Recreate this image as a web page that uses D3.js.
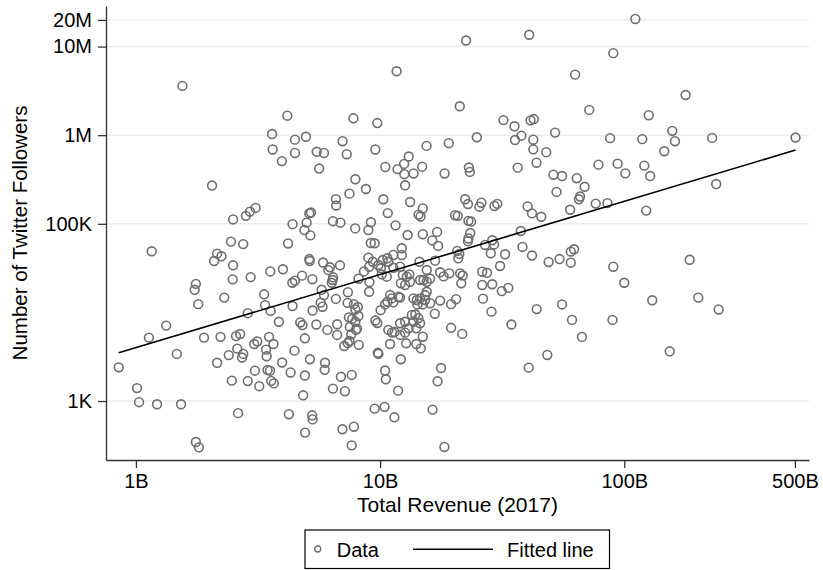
<!DOCTYPE html>
<html>
<head>
<meta charset="utf-8">
<script src="https://cdn.jsdelivr.net/npm/d3@7"></script>
<style>
    body { margin: 0; background: #fff; }
    #scatter { width: 823px; height: 570px; }
    text { font-family: "Liberation Sans", Arial, sans-serif; fill: #000; }
</style>
</head>
<body>
<div id="scatter"></div>
<script>

// total revenue 2017, in billions
const revenue = [
    0.85, 1.01, 1.03, 1.13, 1.16, 1.22, 1.33, 1.47, 1.53, 1.55, 1.74, 1.76, 1.8, 1.76, 1.81, 1.9,
    2.05, 2.09, 2.15, 2.24, 2.15, 2.22, 2.3, 2.4, 2.45, 2.5, 2.5, 2.49, 2.47, 2.57, 2.67, 2.6,
    2.75, 2.72, 2.62, 2.75, 2.82, 2.93, 3.09, 2.95, 2.87, 2.87, 3.07, 3.05, 3.14, 3.2, 3.35, 3.38,
    3.41, 3.43, 3.51, 3.66, 3.46, 3.54, 3.58, 3.67, 3.55, 3.56, 3.61, 3.63, 3.96, 4.0, 3.85, 3.97,
    4.17, 4.2, 4.23, 4.3, 4.37, 4.48, 4.38, 4.38, 4.46, 4.48, 4.48, 4.71, 4.81, 4.79, 4.84, 4.9,
    4.92, 4.92, 4.93, 4.97, 5.0, 5.13, 5.21, 5.18, 5.13, 5.15, 5.16, 5.28, 5.29, 5.27, 5.29, 5.5,
    5.48, 5.63, 5.89, 5.76, 5.89, 5.71, 5.81, 5.84, 5.95, 5.93, 6.08, 6.14, 6.23, 6.41, 6.39, 6.34,
    6.42, 6.41, 6.85, 6.59, 6.59, 6.61, 6.67, 6.67, 6.88, 6.91, 7.01, 7.02, 7.3, 7.13, 7.37, 7.49,
    8.18, 7.62, 7.96, 7.18, 7.38, 7.36, 7.81, 8.11, 7.92, 7.45, 7.69, 8.15, 7.92, 7.52, 8.04, 7.49,
    7.65, 7.65, 7.81, 7.78, 7.92, 7.91, 8.16, 8.59, 8.75, 9.02, 9.05, 9.02, 8.95, 9.17, 8.95, 9.16,
    9.5, 9.34, 9.5, 9.56, 9.74, 9.56, 9.74, 9.79, 9.84, 9.84, 10.05, 10.07, 10.16, 10.26, 10.31, 10.5,
    10.48, 10.56, 10.43, 10.48, 10.65, 10.71, 10.71, 10.81, 10.75, 10.81, 10.99, 10.99, 11.17, 11.33, 11.33, 11.33,
    11.2, 11.47, 11.57, 11.68, 11.79, 11.85, 11.44, 11.89, 12.08, 12.08, 12.08, 12.08, 12.16, 12.27, 12.27, 12.16,
    12.39, 12.54, 12.57, 12.66, 12.66, 12.86, 13.18, 13.27, 12.66, 12.66, 12.78, 12.96, 13.09, 13.1, 13.27, 13.49,
    13.69, 14.14, 14.58, 15.29, 14.22, 14.96, 15.53, 15.29, 16.03, 13.69, 14.34, 14.58, 14.07, 13.95, 14.07, 14.68,
    14.96, 13.71, 14.37, 14.65, 14.49, 14.58, 15.05, 14.87, 14.96, 14.96, 15.5, 15.53, 16.03, 15.53, 16.36, 17.12,
    17.28, 16.8, 16.75, 16.4, 17.2, 17.77, 17.61, 18.2, 19.2, 17.61, 18.37, 18.34, 19.11, 19.53, 20.48, 19.53,
    20.29, 20.8, 20.7, 21.1, 20.9, 21.2, 21.27, 21.8, 21.5, 21.7, 22.3, 22.9, 22.5, 23.0, 23.6, 23.4,
    23.0, 22.9, 23.1, 23.3, 24.9, 25.5, 26.0, 26.2, 27.4, 26.2, 28.8, 26.4, 28.6, 26.9, 28.8, 29.3,
    28.4, 29.4, 30.2, 31.5, 33.5, 31.0, 32.5, 32.0, 34.5, 35.5, 35.7, 36.6, 37.9, 37.7, 38.3, 40.2,
    40.8, 41.3, 42.6, 42.4, 42.4, 41.9, 41.9, 43.7, 43.8, 40.6, 45.7, 47.9, 48.4, 49.0, 51.3, 52.1,
    52.8, 54.3, 55.6, 55.6, 60.0, 60.4, 62.3, 60.4, 61.1, 62.9, 63.9, 65.9, 65.2, 67.1, 68.8, 71.9,
    76.4, 78.4, 85.3, 87.5, 89.5, 90.2, 90.2, 93.9, 100, 101, 111, 118.5, 120.8, 123, 126, 127.7,
    130.2, 145.8, 153.5, 157.3, 161.3, 178.3, 185.3, 201, 229, 238, 243.6, 503
];

// number of twitter followers
const followers = [
    2400, 1400, 970, 5200, 49000, 920, 7100, 3400, 920, 3600000, 18000, 21000, 12400, 345, 300, 5200,
    270000, 38000, 46000, 43000, 2700, 5300, 14700, 3300, 63000, 112000, 34000, 23600, 1700, 5400, 5700, 3900,
    3400, 3100, 730, 59000, 123000, 137000, 151000, 25000, 9800, 1680, 2200, 4400, 4700, 1470, 16000, 12100,
    3800, 3200, 5300, 4400, 2240, 2200, 1690, 1580, 29000, 10400, 1030000, 690000, 510000, 30700, 7850, 2720,
    1660000, 60000, 710, 2100, 21600, 22800, 99000, 11800, 3700, 890000, 630000, 7700, 7200, 26000, 1160, 85000,
    5100, 1940, 440, 960000, 103000, 131000, 134000, 74000, 40000, 38000, 2960, 23700, 10500, 690, 620, 650000,
    7300, 420000, 630000, 18000, 15700, 12900, 11600, 36600, 2700, 2250, 6350, 30000, 32300, 107000, 23200, 21600,
    24900, 1380, 34000, 14200, 190000, 161000, 7350, 5570, 103000, 1880, 480, 855000, 610000, 4180, 4500, 4760,
    4300, 5670, 6350, 1290, 16900, 12800, 12400, 11500, 10800, 8800, 8450, 9100, 7850, 6860, 6560, 219000,
    1970, 316, 513, 1550000, 318000, 88700, 24000, 29000, 247000, 32800, 22000, 17100, 41500, 104000, 85000, 60700,
    60300, 37300, 820, 690000, 1370000, 8100, 7600, 3500, 3400, 34300, 10600, 31500, 26900, 39000, 189000, 438000,
    2210, 1760, 860, 12300, 25300, 13200, 40800, 37300, 132000, 6350, 4400, 15700, 14400, 13000, 44500, 31900,
    5940, 6000, 96000, 5270000, 414000, 1310, 655, 15000, 14700, 32800, 7550, 5570, 2960, 53000, 44500, 21300,
    26500, 474000, 363000, 272000, 20400, 25300, 26900, 22200, 7850, 5910, 4480, 74700, 6620, 575000, 176000, 9370,
    14400, 13800, 14400, 13800, 12300, 12300, 17100, 15700, 12700, 7850, 8600, 7550, 6620, 9470, 4400, 3930,
    5320, 370000, 127000, 121000, 37300, 23200, 23200, 441000, 149000, 76300, 757000, 30100, 24100, 22200, 64900, 81000,
    56300, 38400, 9670, 800, 1670, 2360, 28400, 25500, 27600, 13600, 370000, 303, 813000, 12400, 14100, 6700,
    125000, 123000, 49400, 45700, 40800, 2120000, 27600, 26100, 21300, 5720, 189000, 167000, 11700000, 108000, 106000, 78700,
    68300, 63700, 432000, 385000, 947000, 156000, 173000, 28800, 28000, 20400, 20800, 14300, 10200, 57700, 65200, 58500,
    46500, 159000, 168000, 17400, 18900, 33400, 45300, 1480000, 7300, 1260000, 883000, 430000, 987000, 82900, 54800, 157000,
    13600000, 1470000, 1520000, 889000, 692000, 131000, 43900, 489000, 10900, 2380, 120000, 643000, 3310, 37100, 358000, 1070000,
    229000, 40000, 346000, 12300, 144000, 48500, 51600, 36400, 8230, 4820000, 327000, 203000, 189000, 5290, 262000, 1930000,
    169000, 465000, 171000, 926000, 8230, 32800, 8430000, 477000, 21600, 371000, 20500000, 902000, 453000, 141000, 1680000, 346000,
    13700, 659000, 3640, 1120000, 855000, 2840000, 39300, 14700, 932000, 281000, 10800, 940000
];

// fitted line in log10-log10 space
const fitIntercept = 3.6025;
const fitSlope = 0.8254;

const xTicks = [1, 10, 100, 500];
const xTickLabels = ["1B", "10B", "100B", "500B"];
const yTicks = [1e3, 1e5, 1e6, 1e7, 2e7];
const yTickLabels = ["1K", "100K", "1M", "10M", "20M"];
const legendLabels = ["Data", "Fitted line"];


class ScatterPlot {

    constructor(_parentElement, _revenue, _followers) {
        this.parentElement = _parentElement;
        this.revenue = _revenue;
        this.followers = _followers;

        this.initVis();
    }

    initVis() {
        let vis = this;

        vis.margin = {top: 6, right: 14, bottom: 110, left: 106};
        vis.width = 823 - vis.margin.left - vis.margin.right;
        vis.height = 570 - vis.margin.top - vis.margin.bottom;

        vis.root = d3.select("#" + vis.parentElement).append("svg")
            .attr("width", 823)
            .attr("height", 570);

        vis.svg = vis.root.append("g")
            .attr("transform", "translate(" + vis.margin.left + "," + vis.margin.top + ")");

        // log scales, domain picked so the plot edges match the original
        vis.x = d3.scaleLog()
            .domain([0.754, 571])
            .range([0, vis.width]);

        vis.y = d3.scaleLog()
            .domain([216, 2.87e7])
            .range([vis.height, 0]);

        // horizontal grid lines
        vis.svg.append("g")
            .attr("class", "grid")
            .selectAll("line")
            .data(yTicks)
            .enter()
            .append("line")
            .attr("x1", 0)
            .attr("x2", vis.width)
            .attr("y1", d => vis.y(d))
            .attr("y2", d => vis.y(d))
            .attr("stroke", "#e7eff0")
            .attr("stroke-width", 1.5);

        vis.xAxis = d3.axisBottom(vis.x)
            .tickValues(xTicks)
            .tickFormat((d, i) => xTickLabels[i])
            .tickSize(8)
            .tickSizeOuter(0)
            .tickPadding(6);

        vis.yAxis = d3.axisLeft(vis.y)
            .tickValues(yTicks)
            .tickFormat((d, i) => yTickLabels[i])
            .tickSize(8)
            .tickSizeOuter(0)
            .tickPadding(6);

        vis.svg.append("g")
            .attr("class", "x-axis axis")
            .attr("transform", "translate(0," + vis.height + ")")
            .call(vis.xAxis);

        vis.svg.append("g")
            .attr("class", "y-axis axis")
            .call(vis.yAxis);

        vis.svg.selectAll(".axis path, .axis line")
            .attr("stroke", "#333")
            .attr("stroke-width", 1.3);

        vis.svg.selectAll(".axis text")
            .style("font-family", "'Liberation Sans', Arial, sans-serif")
            .style("font-size", "20px")
            .attr("fill", "#000");

        // axis titles
        vis.svg.append("text")
            .attr("class", "axis-title")
            .attr("text-anchor", "middle")
            .attr("x", vis.width / 2)
            .attr("y", vis.height + 51.7)
            .style("font-size", "21px")
            .text("Total Revenue (2017)");

        vis.svg.append("text")
            .attr("class", "axis-title")
            .attr("text-anchor", "middle")
            .attr("transform", "translate(" + (26.7 - vis.margin.left) + "," + (vis.height / 2) + ") rotate(-90)")
            .style("font-size", "20.5px")
            .text("Number of Twitter Followers");

        // legend
        vis.legend = vis.root.append("g")
            .attr("class", "legend")
            .attr("transform", "translate(305,530)");

        vis.legend.append("rect")
            .attr("width", 304.5)
            .attr("height", 38.5)
            .attr("fill", "none")
            .attr("stroke", "#000")
            .attr("stroke-width", 1.2);

        vis.legend.append("circle")
            .attr("cx", 12.7)
            .attr("cy", 19)
            .attr("r", 3)
            .attr("fill", "none")
            .attr("stroke", "#6e6e6e")
            .attr("stroke-width", 1.3);

        vis.legend.append("text")
            .attr("x", 31.7)
            .attr("y", 26.7)
            .style("font-size", "20px")
            .text(legendLabels[0]);

        vis.legend.append("line")
            .attr("x1", 108)
            .attr("x2", 188)
            .attr("y1", 19.3)
            .attr("y2", 19.3)
            .attr("stroke", "#000")
            .attr("stroke-width", 1.5);

        vis.legend.append("text")
            .attr("x", 202)
            .attr("y", 26.7)
            .style("font-size", "20px")
            .text(legendLabels[1]);

        this.wrangleData();
    }

    wrangleData() {
        let vis = this;

        vis.displayData = vis.revenue.map((r, i) => ({revenue: r, followers: vis.followers[i]}));

        // fitted line runs over the data range
        vis.fitData = d3.extent(vis.revenue).map(r => ({
            revenue: r,
            followers: Math.pow(10, fitIntercept + fitSlope * Math.log10(r))
        }));

        vis.updateVis();
    }

    updateVis() {
        let vis = this;

        vis.points = vis.svg.selectAll(".point")
            .data(vis.displayData);

        vis.points.enter()
            .append("circle")
            .attr("class", "point")
            .merge(vis.points)
            .attr("cx", d => vis.x(d.revenue))
            .attr("cy", d => vis.y(d.followers))
            .attr("r", 4.4)
            .attr("fill", "none")
            .attr("stroke", "#6e6e6e")
            .attr("stroke-width", 1.6);

        vis.points.exit().remove();

        vis.line = d3.line()
            .x(d => vis.x(d.revenue))
            .y(d => vis.y(d.followers));

        vis.svg.append("path")
            .datum(vis.fitData)
            .attr("class", "fit-line")
            .attr("d", vis.line)
            .attr("fill", "none")
            .attr("stroke", "#000")
            .attr("stroke-width", 1.6);
    }
}

new ScatterPlot("scatter", revenue, followers);

</script>
</body>
</html>
